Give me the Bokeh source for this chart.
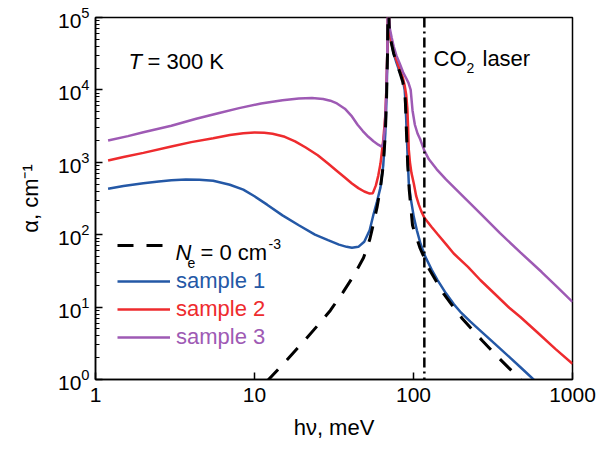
import numpy as np
from bokeh.plotting import figure
from bokeh.models import Range1d, Label, Legend, LegendItem, Span, NumeralTickFormatter
from bokeh.core.properties import value
from bokeh.embed import file_html
from bokeh.resources import INLINE

# ---------------- data ----------------
# photon energy h*nu in meV, absorption coefficient alpha in cm^-1
x_ne0 = [12.0, 15, 20, 25, 30, 36, 42, 48.5, 53, 56, 59, 62, 64.5, 66.5, 67.7, 68.6, 69.4,
         70.2, 71, 73, 75, 78, 82, 85.5, 88, 89, 90, 91, 92, 94, 96, 98.6, 102, 106, 110, 116.4,
         124, 137, 155, 179, 203, 240, 272, 335, 397, 470, 500]
y_ne0 = [0.95, 1.6, 3.2, 5.6, 9, 16, 27, 48, 85, 142, 240, 450, 900, 2500, 8000, 30000, 300000,
         80000, 55000, 42000, 32000, 24000, 17500, 13000, 9500, 6500, 3200, 1700, 900, 420, 250, 135, 105, 83, 65, 49,
         35, 24, 15.2, 9.9, 6.9, 4.6, 3.4, 2.1, 1.45, 1.0, 0.86]

x_s1 = [1.2, 1.5, 2, 2.5, 3, 3.7, 4.5, 5.5, 7, 8.5, 10, 12, 15, 19, 24, 29, 34, 38, 41, 45, 49, 53,
        56, 59, 62, 64.5, 66.5, 67.7, 68.6, 69.4, 70.2, 71, 73, 75, 78, 82, 85.5, 88, 89, 90, 91, 92,
        93.4, 96, 100.5, 105, 110.7, 119, 130, 141, 160, 179, 200, 228, 264, 320, 400, 480, 569, 620]
y_s1 = [430, 470, 515, 545, 565, 577, 575, 555, 490, 420, 340, 260, 185, 135, 100, 84, 73, 68, 66, 68, 80, 115,
        190, 290, 450, 900, 2500, 8000, 30000, 300000, 80000, 55000, 42000, 32000, 24000, 17500, 14000, 10000, 7000, 3800, 2000, 1100,
        520, 320, 175, 115, 75, 49, 33, 24, 15.5, 11, 8.3, 6.3, 4.7, 3.2, 2.05, 1.42, 1.0, 0.84]

x_s2 = [1.2, 1.5, 2, 3, 4, 5.5, 7, 8.5, 10, 11.5, 13, 15.5, 18, 21, 25, 29, 33, 37, 41, 45, 49, 53,
        55.5, 58, 60, 62, 64.5, 66.5, 67.7, 68.6, 69.4, 70.2, 71, 72.5, 75, 78, 82, 85.5, 88, 90, 91.5,
        92.5, 93.4, 95, 97, 100.5, 104, 108, 112, 117, 130, 141, 160, 179, 220, 264, 330, 400, 470, 600,
        780, 1000]
y_s2 = [1060, 1180, 1350, 1650, 1900, 2150, 2380, 2520, 2580, 2560, 2480, 2250, 1950, 1600, 1250, 960, 760, 617, 510, 440, 395, 370,
        375, 480, 650, 960, 2000, 4500, 12000, 40000, 300000, 90000, 62000, 45000, 34000, 26000, 19000, 15000, 11500, 8500, 5500,
        3000, 1500, 1000, 720, 505, 340, 260, 210, 172, 128, 103, 74, 55, 36, 23.5, 14.7, 9.8, 7.3, 4.5,
        2.65, 1.65]

x_s3 = [1.2, 1.6, 2, 3, 4.3, 6, 8, 11, 15, 19, 23, 27, 30, 33, 37, 41, 44.5, 48, 52, 56, 60, 63, 64.5,
        66, 67.3, 68.5, 69.4, 70.2, 71, 73, 75, 78, 82, 86, 90, 93, 96, 98.6, 102, 106, 110, 117, 125,
        140, 160, 197, 264, 350, 470, 640, 800, 1000]
y_s3 = [2000, 2300, 2600, 3200, 4000, 4800, 5600, 6500, 7200, 7600, 7700, 7500, 7100, 6500, 5500, 4300, 3300, 2700, 2250, 1950, 1750, 1650, 1800,
        3000, 8000, 35000, 300000, 100000, 70000, 52000, 40000, 30000, 23000, 17500, 14500, 12500, 10000, 5200, 3300, 2500, 2100, 1450, 1100,
        800, 580, 370, 195, 105, 57, 30.5, 19, 11.8]

co2_energy = 117.0  # CO2 laser line, meV

x_ticks = [1, 10, 100, 1000]

# ---------------- figure ----------------
FONT = "Liberation Sans"
blue, red, purple = "#2458a6", "#ee2b2e", "#9e5ab4"

p = figure(x_axis_type="log", y_axis_type="log",
           x_range=Range1d(1, 1000), y_range=Range1d(1, 1e5),
           width=596, height=452,
           min_border_left=95, min_border_right=24, min_border_top=17, min_border_bottom=73,
           output_backend="svg", toolbar_location=None)

p.grid.visible = False
p.outline_line_color = "black"
p.outline_line_width = 1.5
p.background_fill_color = "white"
p.border_fill_color = "white"

for ax in (p.xaxis, p.yaxis):
    ax.axis_line_color = "black"
    ax.axis_line_width = 1.5
    ax.major_tick_in = 7
    ax.major_tick_out = 0
    ax.minor_tick_in = 4
    ax.minor_tick_out = 0
    ax.major_tick_line_width = 1.5
    ax.minor_tick_line_width = 1.2
    ax.major_tick_line_color = "black"
    ax.minor_tick_line_color = "black"
    ax.major_label_text_font = FONT
    ax.major_label_text_font_size = "21px"
    ax.major_label_text_color = "black"
    ax.axis_label_text_font = FONT
    ax.axis_label_text_font_size = "22px"
    ax.axis_label_text_font_style = "normal"
    ax.axis_label_text_color = "black"

p.xaxis.ticker = x_ticks
p.xaxis.formatter = NumeralTickFormatter(format="0")
p.xaxis.major_label_standoff = 8
p.yaxis.major_label_standoff = 6

p.yaxis.axis_label = "α, cm⁻¹"
p.yaxis.axis_label_standoff = 12
p.xaxis.axis_label = "hν, meV"
p.xaxis.axis_label_standoff = 10

# ---------------- curves ----------------
r1 = p.line(x_s1, y_s1, line_color=blue, line_width=2.5)
r2 = p.line(x_s2, y_s2, line_color=red, line_width=2.5)
r3 = p.line(x_s3, y_s3, line_color=purple, line_width=2.5)
r0 = p.line(x_ne0, y_ne0, line_color="black", line_width=3, line_dash="16 13")

p.add_layout(Span(location=co2_energy, dimension="height", line_color="black",
                  line_width=2.5, line_dash="10 4 2 4"))

# ---------------- legends ----------------
def add_legend(renderer, text, color, sy, gw):
    leg = Legend(items=[LegendItem(label=value(text), renderers=[renderer])],
                 location=(22, sy), glyph_width=gw, glyph_height=30, label_height=30,
                 label_standoff=6, padding=0, spacing=0, margin=0,
                 border_line_alpha=0, background_fill_alpha=0,
                 label_text_font=FONT, label_text_font_size="22px",
                 label_text_color=color)
    p.add_layout(leg)

add_legend(r0, " ", "black", 119, 46)
add_legend(r1, "sample 1", blue, 83, 53)
add_legend(r2, "sample 2", red, 55, 53)
add_legend(r3, "sample 3", purple, 27, 53)

def lab(text, sx, sy, size="22px", style="normal", color="black"):
    p.add_layout(Label(x=sx, y=sy, x_units="screen", y_units="screen", text=text,
                       text_font=FONT, text_font_size=size, text_font_style=style,
                       text_color=color, text_baseline="alphabetic", text_align="left"))

# N_e = 0 cm^-3
lab("N", 80, 127, style="italic")
lab("e", 92, 117, size="14px")
lab("= 0 cm", 105, 127)
lab("-3", 173, 136, size="14px")

# T = 300 K
lab("T", 33, 318, style="italic")
lab("= 300 K", 52, 318)

# CO2 laser
lab("CO", 338, 321)
lab("2", 371, 312, size="14px")
lab("laser", 387, 321)

open("out.html", "w").write(file_html(p, INLINE))
